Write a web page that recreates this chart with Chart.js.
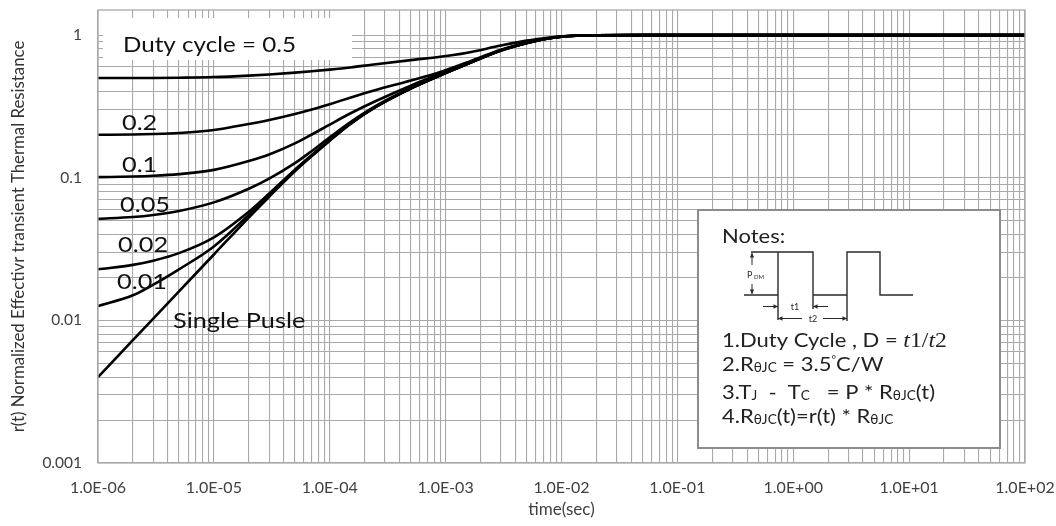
<!DOCTYPE html>
<html><head><meta charset="utf-8">
<script src="https://cdn.jsdelivr.net/npm/chart.js@4.4.1/dist/chart.umd.min.js"></script>
<style>html,body{margin:0;padding:0;background:#fff}#wrap{width:1056px;height:526px}</style>
</head><body><div id="wrap"><canvas id="c" width="1056" height="526"></canvas></div>
<script>
// ---- data ----
const times = [1e-6, 2e-6, 3e-6, 5e-6, 1e-5, 2e-5, 3e-5, 5e-5, 7e-5, 1e-4, 1.5e-4, 2.5e-4, 5e-4, 9e-4, 1.5e-3, 3e-3, 5e-3, 7e-3, 1e-2, 2e-2, 5e-2, 1e-1, 1, 10, 100];
const duty05 = [0.500, 0.5005, 0.501, 0.503, 0.508, 0.520, 0.530, 0.546, 0.558, 0.573, 0.593, 0.625, 0.668, 0.705, 0.750, 0.845, 0.915, 0.950, 0.982, 0.998, 1, 1, 1, 1, 1];
const duty02 = [0.2000, 0.2010, 0.2025, 0.2060, 0.2160, 0.2380, 0.2540, 0.2800, 0.3010, 0.3280, 0.3640, 0.4120, 0.4800, 0.5520, 0.6400, 0.7900, 0.8860, 0.9390, 0.9770, 0.9975, 1, 1, 1, 1, 1];
const duty01 = [0.1010, 0.1020, 0.1032, 0.1060, 0.1135, 0.1310, 0.1455, 0.1740, 0.2010, 0.2360, 0.2820, 0.3450, 0.4420, 0.5370, 0.6320, 0.7840, 0.8810, 0.9365, 0.9760, 0.9970, 1, 1, 1, 1, 1];
const duty005 = [0.0515, 0.0530, 0.0548, 0.0585, 0.0672, 0.0838, 0.0985, 0.1265, 0.1540, 0.1920, 0.2445, 0.3185, 0.4255, 0.5245, 0.6240, 0.7805, 0.8797, 0.9356, 0.9754, 0.9970, 1, 1, 1, 1, 1];
const duty002 = [0.0228, 0.0245, 0.0262, 0.0296, 0.0382, 0.0578, 0.0775, 0.1140, 0.1445, 0.1845, 0.2395, 0.3148, 0.4232, 0.5227, 0.6228, 0.7797, 0.8792, 0.9353, 0.9752, 0.9970, 1, 1, 1, 1, 1];
const duty001 = [0.0126, 0.0150, 0.0178, 0.0228, 0.0330, 0.0548, 0.0750, 0.1120, 0.1426, 0.1828, 0.2383, 0.3138, 0.4225, 0.5222, 0.6225, 0.7795, 0.8790, 0.9352, 0.9751, 0.9970, 1, 1, 1, 1, 1];
const singlePulse = [0.0040, 0.00726, 0.01028, 0.01596, 0.02897, 0.0526, 0.0736, 0.1109, 0.1418, 0.1820, 0.2377, 0.3133, 0.4221, 0.5218, 0.6222, 0.7793, 0.8788, 0.9350, 0.9750, 0.9970, 1, 1, 1, 1, 1];

const xTickLabels = ['1.0E-06', '1.0E-05', '1.0E-04', '1.0E-03', '1.0E-02', '1.0E-01', '1.0E+00', '1.0E+01', '1.0E+02'];
const yTickLabels = ['0.001', '0.01', '0.1', '1'];
const minorSteps = [1, 2, 3, 4, 5, 6, 7, 8, 9];

const curveLabels = [
  { text: '0.2', t: 1.61e-6, r: 0.216 },
  { text: '0.1', t: 1.61e-6, r: 0.1096 },
  { text: '0.05', t: 1.55e-6, r: 0.0575 },
  { text: '0.02', t: 1.49e-6, r: 0.0301 },
  { text: '0.01', t: 1.46e-6, r: 0.0166 },
  { text: 'Single Pusle', t: 4.44e-6, r: 0.00884 }
];
const dutyTitle = { text: 'Duty cycle = 0.5', t: 1.643e-6, r: 0.76 };

// ---- helpers ----
const X_MIN = 1e-6, X_MAX = 1e2, Y_MIN = 0.001, Y_MAX = 1.5;
function decadeTicks(lo, hi) {
  const out = [];
  for (let e = Math.round(Math.log10(lo)); e <= Math.round(Math.log10(hi)); e++) {
    for (const m of minorSteps) {
      const v = m * Math.pow(10, e);
      if (v >= lo * 0.999 && v <= hi * 1.001) out.push({ value: v });
    }
  }
  return out;
}
const isDecade = v => Math.abs(Math.log10(v) - Math.round(Math.log10(v))) < 1e-6;

const series = [duty05, duty02, duty01, duty005, duty002, duty001, singlePulse];
const datasets = series.map(s => ({
  data: times.map((t, i) => ({ x: t, y: s[i] })),
  borderColor: '#000',
  borderWidth: 2.6,
  pointRadius: 0,
  fill: false,
  cubicInterpolationMode: 'monotone'
}));

const FONT = 'Lato';
const GRID = '#a9a9a9';

function stretchText(ctx, text, x, y, sx) {
  ctx.save(); ctx.translate(x, y); ctx.scale(sx, 1); ctx.fillText(text, 0, 0); ctx.restore();
}
function drawRich(ctx, x, y, parts, size, sx) {
  ctx.save(); ctx.translate(x, y); ctx.scale(sx, 1);
  let cx = 0;
  for (const p of parts) {
    let fs = size, dy = 0, fam = FONT, style = '';
    if (p.sub) { fs = size * 0.62; dy = size * 0.04; }
    if (p.sup) { fs = size * 0.5; dy = -size * 0.42; }
    if (p.serif) { fam = '"Liberation Serif"'; fs = size * 1.08; }
    if (p.it) style = 'italic ';
    ctx.font = `${style}${fs}px ${fam}`;
    ctx.fillText(p.t, cx, dy);
    cx += ctx.measureText(p.t).width;
  }
  ctx.restore();
}
function arrow(ctx, x1, y1, x2, y2) {
  ctx.beginPath(); ctx.moveTo(x1, y1); ctx.lineTo(x2, y2); ctx.stroke();
  const a = Math.atan2(y2 - y1, x2 - x1), L = 5;
  ctx.beginPath();
  ctx.moveTo(x2, y2);
  ctx.lineTo(x2 - L * Math.cos(a - 0.45), y2 - L * Math.sin(a - 0.45));
  ctx.lineTo(x2 - L * Math.cos(a + 0.45), y2 - L * Math.sin(a + 0.45));
  ctx.closePath(); ctx.fill();
}

const decor = {
  id: 'decor',
  beforeDatasetsDraw(chart) {
    const { ctx, chartArea: ca } = chart;
    ctx.save();
    ctx.fillStyle = '#fff';
    ctx.fillRect(ca.left + 5, ca.top + 8, 249, 42);
    ctx.restore();
  },
  afterDatasetsDraw(chart) {
    const { ctx, chartArea: ca, scales } = chart;
    const xs = scales.x, ys = scales.y;
    ctx.save();
    ctx.strokeStyle = GRID; ctx.lineWidth = 1.3;
    ctx.strokeRect(ca.left, ca.top, ca.right - ca.left, ca.bottom - ca.top);

    ctx.fillStyle = '#111';
    ctx.textBaseline = 'alphabetic'; ctx.textAlign = 'left';
    ctx.font = `22px ${FONT}`;
    stretchText(ctx, dutyTitle.text, xs.getPixelForValue(dutyTitle.t), ys.getPixelForValue(dutyTitle.r), 1.1);
    for (const l of curveLabels) stretchText(ctx, l.text, xs.getPixelForValue(l.t), ys.getPixelForValue(l.r), 1.15);

    // Notes box
    const bx = ca.left + 600, by = ca.top + 200, bw = 302, bh = 238;
    ctx.fillStyle = '#fff'; ctx.fillRect(bx, by, bw, bh);
    ctx.strokeStyle = '#8c8c8c'; ctx.lineWidth = 2;
    ctx.strokeRect(bx, by, bw, bh);

    ctx.fillStyle = '#222';
    ctx.font = `20px ${FONT}`;
    stretchText(ctx, 'Notes:', bx + 24, by + 33, 1.1);

    ctx.strokeStyle = '#2a2a2a'; ctx.fillStyle = '#2a2a2a'; ctx.lineWidth = 1.4;
    const yb = by + 85, yt = by + 42;
    ctx.beginPath();
    ctx.moveTo(bx + 46, yb); ctx.lineTo(bx + 80, yb); ctx.lineTo(bx + 80, yt); ctx.lineTo(bx + 115, yt);
    ctx.lineTo(bx + 115, yb); ctx.lineTo(bx + 149, yb); ctx.lineTo(bx + 149, yt); ctx.lineTo(bx + 182, yt);
    ctx.lineTo(bx + 182, yb); ctx.lineTo(bx + 215, yb);
    ctx.moveTo(bx + 53, yt); ctx.lineTo(bx + 80, yt);
    ctx.moveTo(bx + 80, yb); ctx.lineTo(bx + 80, by + 110);
    ctx.moveTo(bx + 115, yb); ctx.lineTo(bx + 115, by + 99);
    ctx.moveTo(bx + 149, yb); ctx.lineTo(bx + 149, by + 111);
    ctx.stroke();
    ctx.lineWidth = 1;
    arrow(ctx, bx + 54, by + 55, bx + 54, yt + 1);
    arrow(ctx, bx + 54, by + 74, bx + 54, yb - 1);
    arrow(ctx, bx + 65, by + 96.5, bx + 80, by + 96.5);
    arrow(ctx, bx + 130, by + 96.5, bx + 115, by + 96.5);
    arrow(ctx, bx + 104, by + 108.5, bx + 80, by + 108.5);
    arrow(ctx, bx + 125, by + 108.5, bx + 149, by + 108.5);
    ctx.font = `9px ${FONT}`;
    ctx.textAlign = 'center';
    ctx.fillText('t1', bx + 97, by + 100);
    ctx.fillText('t2', bx + 115, by + 112);
    ctx.textAlign = 'left';
    ctx.fillText('P', bx + 49, by + 68);
    ctx.font = `6px ${FONT}`;
    ctx.fillText('DM', bx + 56, by + 69);

    ctx.fillStyle = '#222';
    const s = 20, lx = bx + 24, sx = 1.1;
    drawRich(ctx, lx, by + 137, [{ t: '1.Duty Cycle , D = ' }, { t: 't', serif: 1, it: 1 }, { t: '1/', serif: 1 }, { t: 't', serif: 1, it: 1 }, { t: '2', serif: 1 }], s, sx);
    drawRich(ctx, lx, by + 161, [{ t: '2.R' }, { t: 'θJC', sub: 1 }, { t: ' = 3.5' }, { t: '°', sup: 1 }, { t: 'C/W' }], s, sx);
    drawRich(ctx, lx, by + 189, [{ t: '3.T' }, { t: 'J', sub: 1 }, { t: '  -  T' }, { t: 'C', sub: 1 }, { t: '   = P * R' }, { t: 'θJC', sub: 1 }, { t: '(t)' }], s, sx);
    drawRich(ctx, lx, by + 213, [{ t: '4.R' }, { t: 'θJC', sub: 1 }, { t: '(t)=r(t) * R' }, { t: 'θJC', sub: 1 }], s, sx);
    ctx.restore();
  }
};

new Chart(document.getElementById('c'), {
  type: 'line',
  data: { datasets },
  plugins: [decor],
  options: {
    responsive: false,
    animation: false,
    devicePixelRatio: 1,
    layout: { padding: 0 },
    plugins: { legend: { display: false }, tooltip: { enabled: false } },
    scales: {
      x: {
        type: 'logarithmic',
        min: X_MIN, max: X_MAX,
        afterBuildTicks: sc => { sc.ticks = decadeTicks(X_MIN, X_MAX); },
        afterFit: sc => { sc.height = 63; sc.paddingLeft = 0; sc.paddingRight = 31; },
        grid: { color: GRID, lineWidth: 1.1, drawTicks: false },
        border: { display: false },
        ticks: {
          autoSkip: false, maxRotation: 0, minRotation: 0, padding: 15,
          color: '#404040', font: { family: FONT, size: 16 },
          callback: v => isDecade(v) ? xTickLabels[Math.round(Math.log10(v)) + 6] : ''
        },
        title: { display: true, text: 'time(sec)', color: '#404040', font: { family: FONT, size: 17 }, padding: { top: 0, bottom: 6 } }
      },
      y: {
        type: 'logarithmic',
        min: Y_MIN, max: Y_MAX,
        afterBuildTicks: sc => { sc.ticks = decadeTicks(Y_MIN, 1); },
        afterFit: sc => { sc.width = 98; sc.paddingTop = 10; sc.paddingBottom = 0; },
        grid: { color: GRID, lineWidth: 1.1, drawTicks: false },
        border: { display: false },
        ticks: {
          autoSkip: false, padding: 16,
          color: '#404040', font: { family: FONT, size: 15.5 },
          callback: v => isDecade(v) ? yTickLabels[Math.round(Math.log10(v)) + 3] : ''
        },
        title: { display: true, text: 'r(t) Normalized Effectivr transient Thermal Resistance', color: '#333', font: { family: FONT, size: 16.8 }, padding: { top: 9, bottom: 0 } }
      }
    }
  }
});
</script>
</body></html>
